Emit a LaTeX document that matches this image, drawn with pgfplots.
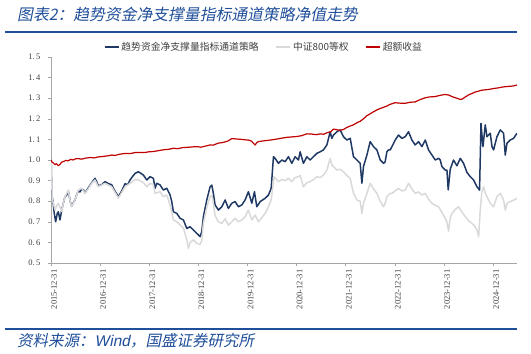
\documentclass[border=0pt]{standalone}
\usepackage{pgfplots}
\pgfplotsset{compat=1.18}
\usepackage{pgfplotstable}
\usepackage{fontspec}
\setmainfont{Liberation Serif}
\newfontfamily\cjk{Noto Sans CJK SC}
\newfontfamily\cjkit[FakeSlant=0.2]{Noto Sans CJK SC}
\newfontfamily\arialit[FakeSlant=0.2]{Liberation Sans}
\definecolor{navy}{HTML}{1F3864}
\definecolor{lgray}{HTML}{D9D9D9}
\definecolor{dred}{HTML}{C00000}
\definecolor{tblue}{HTML}{1F4E9A}
\definecolor{axisgray}{HTML}{A6A6A6}
\definecolor{labelgray}{HTML}{404040}

\pgfplotstableread{
t v
2016.000 1.000
2016.008 0.960
2016.014 0.838
2016.040 0.798
2016.067 0.741
2016.095 0.700
2016.128 0.741
2016.149 0.749
2016.183 0.709
2016.218 0.757
2016.250 0.790
2016.285 0.822
2016.320 0.830
2016.352 0.850
2016.390 0.800
2016.421 0.775
2016.460 0.795
2016.489 0.806
2016.520 0.830
2016.556 0.850
2016.590 0.845
2016.625 0.860
2016.660 0.855
2016.692 0.840
2016.760 0.865
2016.829 0.890
2016.896 0.911
2016.930 0.895
2016.963 0.875
2017.030 0.880
2017.100 0.895
2017.170 0.885
2017.236 0.880
2017.300 0.850
2017.371 0.822
2017.440 0.850
2017.507 0.885
2017.560 0.880
2017.609 0.903
2017.660 0.920
2017.711 0.935
2017.778 0.943
2017.830 0.935
2017.880 0.927
2017.949 0.903
2018.016 0.919
2018.084 0.911
2018.118 0.863
2018.153 0.887
2018.220 0.879
2018.287 0.854
2018.356 0.863
2018.424 0.830
2018.458 0.798
2018.491 0.749
2018.560 0.741
2018.627 0.717
2018.695 0.709
2018.764 0.668
2018.831 0.676
2018.898 0.660
2018.967 0.644
2019.035 0.628
2019.069 0.652
2019.102 0.725
2019.171 0.806
2019.238 0.870
2019.273 0.878
2019.305 0.838
2019.340 0.782
2019.407 0.757
2019.477 0.773
2019.544 0.806
2019.611 0.765
2019.680 0.790
2019.747 0.798
2019.815 0.773
2019.884 0.782
2019.951 0.806
2020.018 0.846
2020.088 0.790
2020.141 0.846
2020.189 0.773
2020.257 0.798
2020.358 0.814
2020.426 0.830
2020.481 0.862
2020.528 1.016
2020.562 1.008
2020.629 0.984
2020.699 1.000
2020.766 0.992
2020.833 1.016
2020.902 0.984
2020.969 1.016
2021.037 1.000
2021.071 1.040
2021.138 0.984
2021.208 1.016
2021.275 1.000
2021.342 1.016
2021.411 1.032
2021.479 1.040
2021.546 1.049
2021.615 1.073
2021.682 1.137
2021.717 1.105
2021.749 1.121
2021.819 1.137
2021.886 1.146
2021.953 1.113
2022.022 1.097
2022.090 1.105
2022.157 1.016
2022.226 1.000
2022.293 0.984
2022.328 0.887
2022.360 0.968
2022.430 1.024
2022.497 1.089
2022.564 1.065
2022.633 1.049
2022.701 1.000
2022.768 0.984
2022.800 0.990
2022.837 1.040
2022.870 1.049
2022.904 1.049
2022.939 1.065
2023.006 1.097
2023.073 1.121
2023.143 1.105
2023.210 1.113
2023.277 1.137
2023.346 1.097
2023.413 1.073
2023.481 1.089
2023.550 1.065
2023.617 1.097
2023.684 1.049
2023.754 1.024
2023.821 1.000
2023.888 1.008
2023.923 1.000
2023.957 0.968
2024.024 0.951
2024.059 0.951
2024.085 0.855
2024.126 0.955
2024.193 1.000
2024.263 0.972
2024.330 1.008
2024.397 0.984
2024.466 0.940
2024.534 0.919
2024.601 0.903
2024.670 0.870
2024.723 0.854
2024.752 1.178
2024.792 1.065
2024.839 1.170
2024.874 1.113
2024.941 1.130
2024.976 1.065
2025.008 1.049
2025.077 1.113
2025.145 1.146
2025.212 1.130
2025.246 1.024
2025.281 1.081
2025.348 1.097
2025.415 1.105
2025.485 1.130
}\strat

\pgfplotstableread{
t v
2016.000 1.000
2016.008 0.950
2016.027 0.806
2016.050 0.790
2016.081 0.757
2016.110 0.775
2016.149 0.790
2016.218 0.750
2016.250 0.790
2016.285 0.822
2016.352 0.854
2016.390 0.800
2016.421 0.773
2016.489 0.806
2016.556 0.854
2016.625 0.863
2016.692 0.838
2016.760 0.860
2016.829 0.887
2016.896 0.903
2016.963 0.870
2017.100 0.887
2017.236 0.870
2017.371 0.815
2017.507 0.870
2017.609 0.887
2017.711 0.905
2017.778 0.903
2017.880 0.890
2017.949 0.870
2018.016 0.887
2018.084 0.880
2018.118 0.838
2018.220 0.846
2018.287 0.822
2018.356 0.830
2018.424 0.782
2018.491 0.709
2018.560 0.700
2018.627 0.684
2018.695 0.670
2018.764 0.612
2018.797 0.571
2018.831 0.600
2018.898 0.612
2018.967 0.596
2019.035 0.590
2019.069 0.610
2019.102 0.693
2019.171 0.770
2019.238 0.822
2019.273 0.830
2019.305 0.790
2019.340 0.730
2019.407 0.700
2019.477 0.692
2019.544 0.715
2019.611 0.684
2019.680 0.700
2019.747 0.717
2019.815 0.700
2019.884 0.709
2019.951 0.725
2020.018 0.757
2020.088 0.709
2020.155 0.733
2020.222 0.700
2020.290 0.720
2020.358 0.741
2020.426 0.773
2020.481 0.806
2020.541 0.919
2020.629 0.895
2020.699 0.905
2020.766 0.900
2020.833 0.911
2020.902 0.895
2020.969 0.915
2021.037 0.919
2021.071 0.925
2021.138 0.870
2021.208 0.890
2021.275 0.895
2021.342 0.905
2021.411 0.919
2021.479 0.915
2021.546 0.927
2021.615 0.951
2021.682 1.008
2021.717 0.975
2021.749 0.968
2021.819 0.951
2021.886 0.955
2021.953 0.943
2022.022 0.925
2022.090 0.911
2022.157 0.838
2022.226 0.806
2022.293 0.800
2022.328 0.741
2022.360 0.790
2022.430 0.838
2022.497 0.887
2022.564 0.860
2022.633 0.838
2022.701 0.800
2022.768 0.773
2022.802 0.790
2022.837 0.822
2022.904 0.838
2022.939 0.838
2023.006 0.850
2023.073 0.862
2023.143 0.850
2023.210 0.854
2023.277 0.887
2023.346 0.860
2023.413 0.838
2023.481 0.845
2023.550 0.830
2023.617 0.838
2023.684 0.810
2023.754 0.790
2023.821 0.780
2023.888 0.773
2023.957 0.745
2024.024 0.717
2024.059 0.700
2024.092 0.655
2024.126 0.720
2024.160 0.741
2024.230 0.760
2024.296 0.773
2024.360 0.750
2024.432 0.725
2024.500 0.705
2024.568 0.693
2024.635 0.676
2024.670 0.660
2024.704 0.628
2024.737 0.757
2024.770 0.845
2024.806 0.870
2024.839 0.840
2024.874 0.822
2024.941 0.790
2024.976 0.780
2025.008 0.773
2025.077 0.822
2025.145 0.838
2025.212 0.806
2025.246 0.757
2025.281 0.790
2025.348 0.798
2025.415 0.805
2025.485 0.814
}\idx

\pgfplotstableread{
t v
2016.000 1.000
2016.020 0.990
2016.050 0.985
2016.080 0.978
2016.110 0.982
2016.149 0.972
2016.180 0.978
2016.220 0.990
2016.260 0.993
2016.300 0.998
2016.352 0.996
2016.400 1.003
2016.450 1.000
2016.500 1.006
2016.556 1.007
2016.620 1.004
2016.700 1.009
2016.800 1.012
2016.880 1.010
2016.963 1.015
2017.050 1.017
2017.150 1.020
2017.236 1.024
2017.300 1.022
2017.400 1.028
2017.507 1.032
2017.609 1.031
2017.711 1.036
2017.800 1.037
2017.900 1.036
2018.000 1.040
2018.084 1.041
2018.200 1.046
2018.300 1.050
2018.400 1.052
2018.491 1.057
2018.580 1.055
2018.680 1.060
2018.800 1.062
2018.900 1.064
2018.967 1.065
2019.050 1.062
2019.150 1.068
2019.238 1.073
2019.300 1.072
2019.407 1.082
2019.500 1.085
2019.600 1.092
2019.680 1.104
2019.780 1.102
2019.880 1.100
2019.950 1.098
2020.018 1.097
2020.080 1.092
2020.120 1.081
2020.155 1.073
2020.190 1.085
2020.222 1.089
2020.300 1.092
2020.400 1.095
2020.500 1.098
2020.600 1.102
2020.699 1.106
2020.800 1.110
2020.900 1.112
2021.000 1.114
2021.100 1.118
2021.208 1.127
2021.300 1.126
2021.400 1.123
2021.479 1.127
2021.550 1.125
2021.615 1.132
2021.700 1.138
2021.749 1.150
2021.800 1.148
2021.870 1.144
2021.953 1.148
2022.020 1.158
2022.090 1.165
2022.150 1.170
2022.220 1.180
2022.293 1.188
2022.360 1.200
2022.430 1.215
2022.500 1.225
2022.564 1.234
2022.633 1.243
2022.700 1.250
2022.770 1.256
2022.837 1.262
2022.900 1.270
2023.006 1.278
2023.100 1.276
2023.210 1.275
2023.300 1.280
2023.413 1.282
2023.500 1.292
2023.617 1.302
2023.700 1.306
2023.821 1.308
2023.920 1.314
2024.024 1.318
2024.100 1.315
2024.161 1.308
2024.260 1.300
2024.330 1.294
2024.365 1.295
2024.420 1.304
2024.499 1.316
2024.560 1.322
2024.635 1.330
2024.700 1.334
2024.750 1.338
2024.804 1.340
2024.900 1.342
2025.008 1.347
2025.100 1.350
2025.212 1.355
2025.300 1.357
2025.400 1.359
2025.485 1.364
}\excess

\begin{document}
\begin{tikzpicture}[x=1pt,y=1pt]
\path[use as bounding box] (0,0) rectangle (531,354);
\node[anchor=west, text=tblue, inner sep=0pt] at (17,340)
  {\cjkit\fontsize{15.8}{17}\selectfont 图表2：趋势资金净支撑量指标通道策略净值走势};
\draw[tblue, line width=1.8pt] (5,322) -- (517,322);
\draw[tblue, line width=1.8pt] (5,25) -- (517,25);
\node[anchor=west, text=tblue, inner sep=0pt] at (17,13)
  {\cjkit\fontsize{15.5}{17}\selectfont 资料来源：{\arialit Wind}，国盛证券研究所};
\begin{axis}[
  at={(51pt,91pt)}, anchor=south west,
  scale only axis, width=466pt, height=206pt,
  xmin=2016, xmax=2025.485, ymin=0.5, ymax=1.5,
  axis x line=bottom, axis y line=left,
  axis line style={-, draw=axisgray, line width=0.8pt},
  tick align=outside, major tick length=3pt,
  tick style={draw=axisgray, line width=0.6pt},
  xtick={2016,2017,2018,2019,2020,2021,2022,2023,2024,2025},
  xticklabels={2015-12-31,2016-12-31,2017-12-31,2018-12-31,2019-12-31,2020-12-31,2021-12-31,2022-12-31,2023-12-31,2024-12-31},
  x tick label style={rotate=90, anchor=east, font=\fontsize{8.5}{9}\selectfont, text=labelgray, yshift=-3pt},
  ytick={0.5,0.6,0.7,0.8,0.9,1.0,1.1,1.2,1.3,1.4,1.5},
  yticklabels={0.\,5,0.\,6,0.\,7,0.\,8,0.\,9,1.\,0,1.\,1,1.\,2,1.\,3,1.\,4,1.\,5},
  y tick label style={font=\fontsize{8.5}{9}\selectfont, text=labelgray, xshift=-4pt},
  legend columns=3,
  legend style={at={(0.457,1.0485)}, anchor=center, draw=none, fill=none,
    font={\cjk\fontsize{9.8}{10}\selectfont}, text=labelgray,
    /tikz/every even column/.append style={column sep=15pt}},
  legend image code/.code={\draw[#1] (0pt,0pt) -- (14pt,0pt);},
]
\addplot[navy, line width=1.5pt, line join=round] table[x=t,y=v]{\strat};
\addlegendentry{趋势资金净支撑量指标通道策略}
\addplot[lgray, line width=1.5pt, line join=round] table[x=t,y=v]{\idx};
\addlegendentry{中证800等权}
\addplot[dred, line width=1.2pt, line join=round] table[x=t,y=v]{\excess};
\addlegendentry{超额收益}
\end{axis}
\end{tikzpicture}
\end{document}
